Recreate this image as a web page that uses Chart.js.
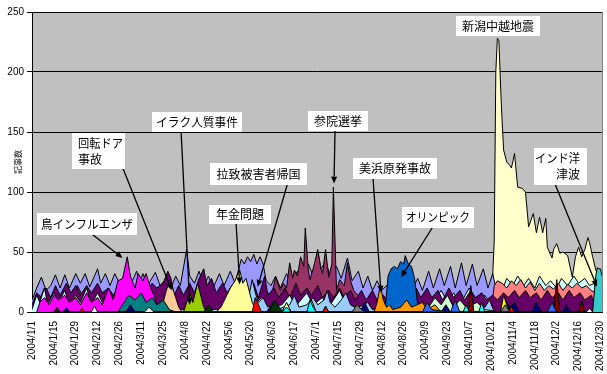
<!DOCTYPE html>
<html lang="ja">
<head>
<meta charset="utf-8">
<title>記事数 2004</title>
<script src="https://cdn.jsdelivr.net/npm/chart.js@4.4.1/dist/chart.umd.min.js"></script>
<style>
  html, body { margin: 0; padding: 0; background: #fff; }
</style>
</head>
<body>
<canvas id="chart" width="607" height="374"></canvas>
<script>
// 2004年 日別の記事数（トピック別）。[日(1/1=0), 件数]
const tickLabels = ['2004/1/1','2004/1/15','2004/1/29','2004/2/12','2004/2/26','2004/3/11','2004/3/25',
  '2004/4/8','2004/4/22','2004/5/6','2004/5/20','2004/6/3','2004/6/17','2004/7/1','2004/7/15','2004/7/29',
  '2004/8/12','2004/8/26','2004/9/9','2004/9/23','2004/10/7','2004/10/21','2004/11/4','2004/11/18',
  '2004/12/2','2004/12/16','2004/12/30'];

const niigata = [[294,0],[296,60],[297,200],[298,228],[299,226],[300,190],[301,160],[302,135],[304,125],
  [306,122],[307,120],[309,132],[311,104],[314,103],[316,100],[318,71],[321,82],[323,66],[325,79],[327,66],
  [329,78],[330,54],[333,45],[334,52],[336,57],[338,49],[340,50],[343,47],[346,29],[348,46],[350,54],
  [352,46],[354,52],[356,62],[357,58],[359,46],[361,35],[363,30],[365,28]];

const lavender = [[0,10],[3,20],[6,29],[9,18],[12,22],[15,31],[18,20],[21,31],[24,20],[28,32],[31,24],
  [34,32],[37,21],[42,36],[44,24],[47,32],[50,22],[53,32],[56,24],[60,30],[63,22],[67,34],[69,24],[71,32],
  [74,22],[79,33],[82,22],[86,28],[89,20],[92,30],[95,22],[99,52],[101,30],[104,24],[107,34],[110,22],
  [113,30],[116,20],[120,32],[123,22],[127,34],[130,24],[134,44],[136,40],[138,46],[140,42],[142,48],
  [144,40],[146,46],[148,40],[150,26],[153,22],[156,30],[159,20],[163,32],[166,24],[170,34],[173,26],
  [177,40],[180,30],[183,50],[185,36],[188,42],[191,30],[195,38],[198,28],[202,45],[205,26],[209,34],
  [212,20],[215,30],[218,18],[221,26],[224,18],[227,22],[230,16],[233,24],[236,18],[240,30],[243,18],
  [247,28],[250,18],[254,34],[257,20],[261,36],[264,22],[268,38],[271,20],[275,41],[278,22],[282,40],
  [285,22],[289,36],[292,20],[295,32],[298,14],[305,12],[365,10]];

const election = [[0,0],[4,8],[8,20],[11,10],[15,16],[19,8],[22,18],[26,10],[29,22],[33,12],[36,18],
  [40,8],[45,6],[60,4],[78,0],[80,10],[84,22],[86,14],[90,0],[145,0],[150,18],[153,12],[156,29],[159,18],
  [161,24],[163,20],[165,41],[167,28],[168,35],[170,30],[172,46],[174,38],[175,70],[177,34],[178,27],
  [180,36],[181,41],[183,52],[185,36],[186,32],[188,52],[190,29],[192,40],[193,104],[195,18],[197,27],
  [200,22],[202,41],[204,26],[206,18],[210,12],[214,4],[216,0]];

const salmon = [[294,0],[296,22],[298,26],[301,24],[304,20],[307,26],[310,22],[313,27],[316,20],[319,25],
  [322,18],[325,24],[328,18],[331,22],[334,19],[337,24],[340,18],[343,23],[346,20],[349,24],[352,20],
  [355,22],[358,18],[361,16],[363,4],[365,0]];

const lightCyanEarly = [[0,2],[3,14],[5,8],[8,20],[10,6],[14,16],[17,8],[21,18],[24,6],[28,14],[31,8],
  [35,20],[38,6],[42,16],[45,8],[49,18],[52,8],[56,14],[60,4],[66,10],[70,3],[77,8],[84,2],[120,2],
  [126,10],[130,3],[140,4],[147,12],[152,4],[160,6],[165,14],[169,5],[176,16],[180,6],[186,12],[190,4],
  [197,18],[201,6],[210,4],[230,0]];
const lightCyanLate = [[240,0],[245,6],[252,14],[256,6],[262,18],[266,8],[270,16],[274,6],[280,20],
  [284,8],[290,14],[294,6],[298,24],[301,18],[304,28],[308,22],[311,30],[315,22],[318,28],[322,20],
  [325,30],[329,22],[332,26],[336,20],[339,28],[343,22],[347,30],[350,24],[354,28],[357,22],[360,24],
  [363,10],[365,4]];

const purple = [[0,6],[3,16],[6,12],[9,20],[12,12],[15,22],[18,14],[22,24],[25,16],[28,22],[31,14],[35,22],
  [38,16],[42,24],[45,16],[49,20],[52,14],[56,22],[59,16],[63,24],[66,18],[70,26],[73,18],[77,24],[80,20],
  [84,24],[87,34],[89,28],[91,14],[94,22],[97,14],[101,24],[104,16],[107,28],[110,36],[112,22],[115,28],
  [118,16],[122,24],[125,16],[128,22],[131,14],[135,20],[138,14],[142,24],[145,12],[149,30],[151,14],
  [155,20],[158,12],[162,20],[165,12],[169,24],[172,14],[176,20],[179,14],[183,22],[186,12],[190,18],
  [193,12],[197,20],[200,12],[204,18],[207,10],[211,18],[214,10],[218,18],[221,10],[225,14],[228,8],
  [232,14],[235,8],[239,16],[242,10],[246,20],[249,12],[253,20],[256,12],[260,18],[263,10],[267,20],
  [270,12],[274,18],[277,10],[281,18],[284,12],[288,16],[291,10],[295,14],[298,10],[302,16],[305,12],
  [309,18],[312,12],[316,18],[319,12],[323,16],[326,10],[330,18],[333,12],[337,16],[340,10],[344,18],
  [347,12],[351,16],[354,10],[358,14],[361,6],[365,4]];

const birdFlu = [[3,0],[5,8],[8,12],[11,6],[14,14],[17,10],[21,14],[24,8],[28,12],[31,6],[35,16],[38,8],
  [42,12],[45,6],[49,20],[52,10],[55,26],[58,28],[61,46],[63,30],[66,20],[68,32],[71,26],[73,32],[76,20],
  [78,14],[80,6],[82,0]];

const lightBlue = [[128,0],[132,6],[136,4],[139,14],[141,27],[143,16],[145,8],[148,12],[151,4],[156,8],
  [159,3],[165,6],[168,14],[171,4],[176,6],[180,12],[183,6],[187,10],[189,18],[191,8],[194,4],[198,10],
  [201,16],[204,6],[208,3],[215,8],[218,2],[235,4],[238,10],[241,4],[260,3],[263,8],[266,2],[290,4],
  [293,10],[296,0]];

const olympics = [[226,0],[228,30],[230,36],[232,38],[234,36],[236,42],[238,40],[239,47],[241,40],
  [243,38],[245,28],[247,6],[248,0]];
const revolvingDoor = [[82,0],[84,8],[86,18],[88,25],[90,20],[92,12],[94,4],[96,0]];
const iraq = [[97,0],[99,8],[101,16],[103,8],[106,24],[108,14],[110,4],[112,0]];
const pension = [[118,0],[121,4],[124,12],[127,20],[130,26],[133,35],[135,24],[137,28],[139,18],[141,8],
  [144,0],[160,0],[163,8],[166,0],[176,0],[179,10],[182,0]];
const teal = [[55,0],[58,6],[62,14],[66,10],[70,16],[73,8],[77,12],[80,6],[84,10],[88,2],[92,0]];
const lightGreen = [[245,0],[250,8],[254,4],[258,12],[262,6],[266,14],[270,4],[274,10],[278,4],[285,8],
  [290,2],[300,0]];
const darkRed = [[279,0],[281,22],[283,0],[334,0],[336,27],[338,0],[350,0],[352,10],[354,0],[360,0],
  [362,12],[364,0]];
const mihama = [[219,0],[221,8],[223,22],[225,10],[227,4],[229,6],[231,2],[236,4],[240,10],[243,4],
  [250,8],[253,2],[258,6],[262,0]];
const tsunami = [[359,0],[361,30],[362,37],[363,36],[364,36],[365,30]];
const navy = [[20,0],[22,4],[24,0],[60,0],[63,6],[66,0],[150,0],[153,5],[156,0],[210,0],[213,8],[216,0],
  [262,0],[265,6],[268,0],[300,0],[303,10],[306,4],[309,8],[312,0],[320,0],[323,8],[326,0],[340,0],
  [342,6],[345,0]];
const red = [[30,0],[32,3],[34,0],[141,0],[143,12],[145,6],[147,0],[186,0],[188,5],[190,0],[305,0],
  [307,5],[309,0]];
const darkGreen = [[14,0],[16,4],[18,0],[110,0],[113,6],[116,0],[152,0],[155,10],[158,4],[161,0]];
const yellow = [[300,0],[302,14],[304,6],[306,0]];
const cyan = [[160,0],[163,4],[166,0],[176,0],[178,10],[180,4],[182,0],[276,0],[278,6],[280,0],[286,0],
  [288,8],[290,0]];
const gray = [[205,0],[208,6],[211,2],[214,0],[300,0],[303,6],[306,0]];
const royalBlue = [[250,0],[253,8],[256,2],[268,0],[271,10],[274,0],[330,0],[333,8],[336,0]];
const white = [[38,0],[40,5],[42,0],[72,0],[75,4],[78,0],[355,0],[357,3],[359,0]];

// 奥から手前の順
const series = [
  [niigata, '#FFFFCC'], [lavender, '#9999FF'], [election, '#993366'], [lightCyanLate, '#CCFFFF'],
  [salmon, '#FF8080'], [purple, '#660066'], [lightCyanEarly, '#CCFFFF'], [birdFlu, '#FF00FF'],
  [lightBlue, '#99CCFF'], [olympics, '#0066CC'], [revolvingDoor, '#FFCC99'], [iraq, '#99CC00'],
  [pension, '#FFFF99'], [teal, '#008080'], [lightGreen, '#CCFFCC'], [darkRed, '#800000'],
  [mihama, '#FF9900'], [tsunami, '#33CCCC'], [navy, '#000080'], [red, '#FF0000'], [darkGreen, '#003300'],
  [yellow, '#FFFF00'], [cyan, '#00FFFF'], [gray, '#808080'], [royalBlue, '#3366FF'], [white, '#FFFFFF']
];

// 吹き出し: box=[x,y,w,h], from=矢印の始点(px), tip=[日, 件数]
const notes = [
  { lines: ['鳥インフルエンザ'], box: [37, 213, 100, 22], from: [88, 231], tip: [58, 45] },
  { lines: ['回転ドア', '事故'], box: [72, 133, 53, 36], align: 'left', from: [120, 161], tip: [89.5, 18] },
  { lines: ['イラク人質事件'], box: [152, 112, 90, 20], from: [181, 130], tip: [101, 6] },
  { lines: ['拉致被害者帰国'], box: [210, 163, 97, 22], from: [288, 182], tip: [144.5, 21] },
  { lines: ['年金問題'], box: [209, 205, 62, 19], from: [236, 222], tip: [133, 23] },
  { lines: ['参院選挙'], box: [308, 111, 60, 20], from: [335, 131], tip: [193.4, 107] },
  { lines: ['美浜原発事故'], box: [353, 158, 84, 21], from: [373, 178], tip: [223.5, 16] },
  { lines: ['オリンピック'], box: [402, 207, 72, 21], from: [434, 225], tip: [236.3, 29] },
  { lines: ['新潟中越地震'], box: [456, 16, 84, 20] },
  { lines: ['インド洋', '津波'], box: [534, 148, 53, 37], align: 'right', from: [553, 179], tip: [361.8, 21] }
];

const plotBg = {
  id: 'plotBg',
  beforeDraw(chart) {
    const { ctx, chartArea: a } = chart;
    ctx.save();
    ctx.fillStyle = '#C0C0C0';
    ctx.fillRect(a.left, a.top, a.right - a.left, a.bottom - a.top);
    ctx.restore();
  },
  afterDatasetsDraw(chart) {
    const { ctx, chartArea: a } = chart;
    ctx.save();
    ctx.strokeStyle = '#808080';
    ctx.lineWidth = 1;
    ctx.beginPath();
    ctx.moveTo(a.right + 0.5, a.top);
    ctx.lineTo(a.right + 0.5, a.bottom);
    ctx.stroke();
    ctx.restore();
  }
};

function arrow(ctx, x1, y1, x2, y2) {
  const ang = Math.atan2(y2 - y1, x2 - x1);
  const len = 7, half = 3;
  const bx = x2 - len * Math.cos(ang), by = y2 - len * Math.sin(ang);
  ctx.beginPath();
  ctx.moveTo(x1, y1);
  ctx.lineTo(bx, by);
  ctx.stroke();
  ctx.beginPath();
  ctx.moveTo(x2, y2);
  ctx.lineTo(bx + half * Math.sin(ang), by - half * Math.cos(ang));
  ctx.lineTo(bx - half * Math.sin(ang), by + half * Math.cos(ang));
  ctx.closePath();
  ctx.fill();
}

const callouts = {
  id: 'callouts',
  afterDraw(chart) {
    const { ctx, scales } = chart;
    ctx.save();
    ctx.strokeStyle = '#000';
    ctx.fillStyle = '#000';
    ctx.lineWidth = 1.3;
    notes.forEach(n => {
      if (!n.tip) return;
      arrow(ctx, n.from[0], n.from[1], scales.x.getPixelForValue(n.tip[0]), scales.y.getPixelForValue(n.tip[1]));
    });
    ctx.font = '12px "Noto Sans CJK JP", sans-serif';
    ctx.textBaseline = 'middle';
    notes.forEach(n => {
      const [x, y, w, h] = n.box;
      ctx.fillStyle = '#FFFFFF';
      ctx.fillRect(x, y, w, h);
      ctx.fillStyle = '#000';
      const lh = n.lines.length > 1 ? 16 : 0;
      const y0 = y + h / 2 - lh * (n.lines.length - 1) / 2;
      n.lines.forEach((t, i) => {
        let tx = x + w / 2;
        ctx.textAlign = 'center';
        if (n.align === 'left') { tx = x + 6; ctx.textAlign = 'left'; }
        if (n.align === 'right') { tx = x + w - 7; ctx.textAlign = 'right'; }
        ctx.fillText(t, tx, y0 + i * lh, w - 8);
      });
    });
    ctx.restore();
  }
};

Chart.defaults.font.family = "'Liberation Sans', Arial, sans-serif";

new Chart(document.getElementById('chart'), {
  type: 'line',
  data: {
    datasets: series.map(([pts, color], i) => ({
      data: pts.map(([x, y]) => ({ x, y })),
      backgroundColor: color,
      borderColor: '#000',
      borderWidth: 1,
      pointRadius: 0,
      tension: 0,
      fill: 'origin',
      order: series.length - i
    }))
  },
  options: {
    responsive: false,
    animation: false,
    layout: { padding: { top: 12, right: 5, left: 0, bottom: 0 } },
    plugins: { legend: { display: false }, tooltip: { enabled: false } },
    scales: {
      x: {
        type: 'linear',
        min: 0,
        max: 365,
        afterBuildTicks: s => { s.ticks = tickLabels.map((_, i) => ({ value: i * 14 })); },
        // 回転ラベル分の余白を取らず、プロット幅いっぱいに使う
        afterFit: s => { s.height = 62; s.paddingLeft = 0; s.paddingRight = 0; },
        grid: { display: false, drawTicks: false },
        border: { color: '#000', width: 1 },
        ticks: {
          autoSkip: false,
          minRotation: 90,
          maxRotation: 90,
          padding: 9,
          color: '#000',
          font: { size: 10 },
          callback: (v, i) => tickLabels[i]
        }
      },
      y: {
        min: 0,
        max: 250,
        afterFit: s => { s.width = 32; },
        grid: { color: '#000', lineWidth: 1, tickLength: 5 },
        border: { color: '#000', width: 1 },
        ticks: {
          stepSize: 50,
          padding: 3,
          color: '#000',
          font: { size: 10 }
        },
        title: {
          display: true,
          text: '記事数',
          color: '#000',
          padding: { top: 13, bottom: 0 },
          font: { family: '"Noto Sans CJK JP", sans-serif', size: 8 }
        }
      }
    }
  },
  plugins: [plotBg, callouts]
});
</script>
</body>
</html>
